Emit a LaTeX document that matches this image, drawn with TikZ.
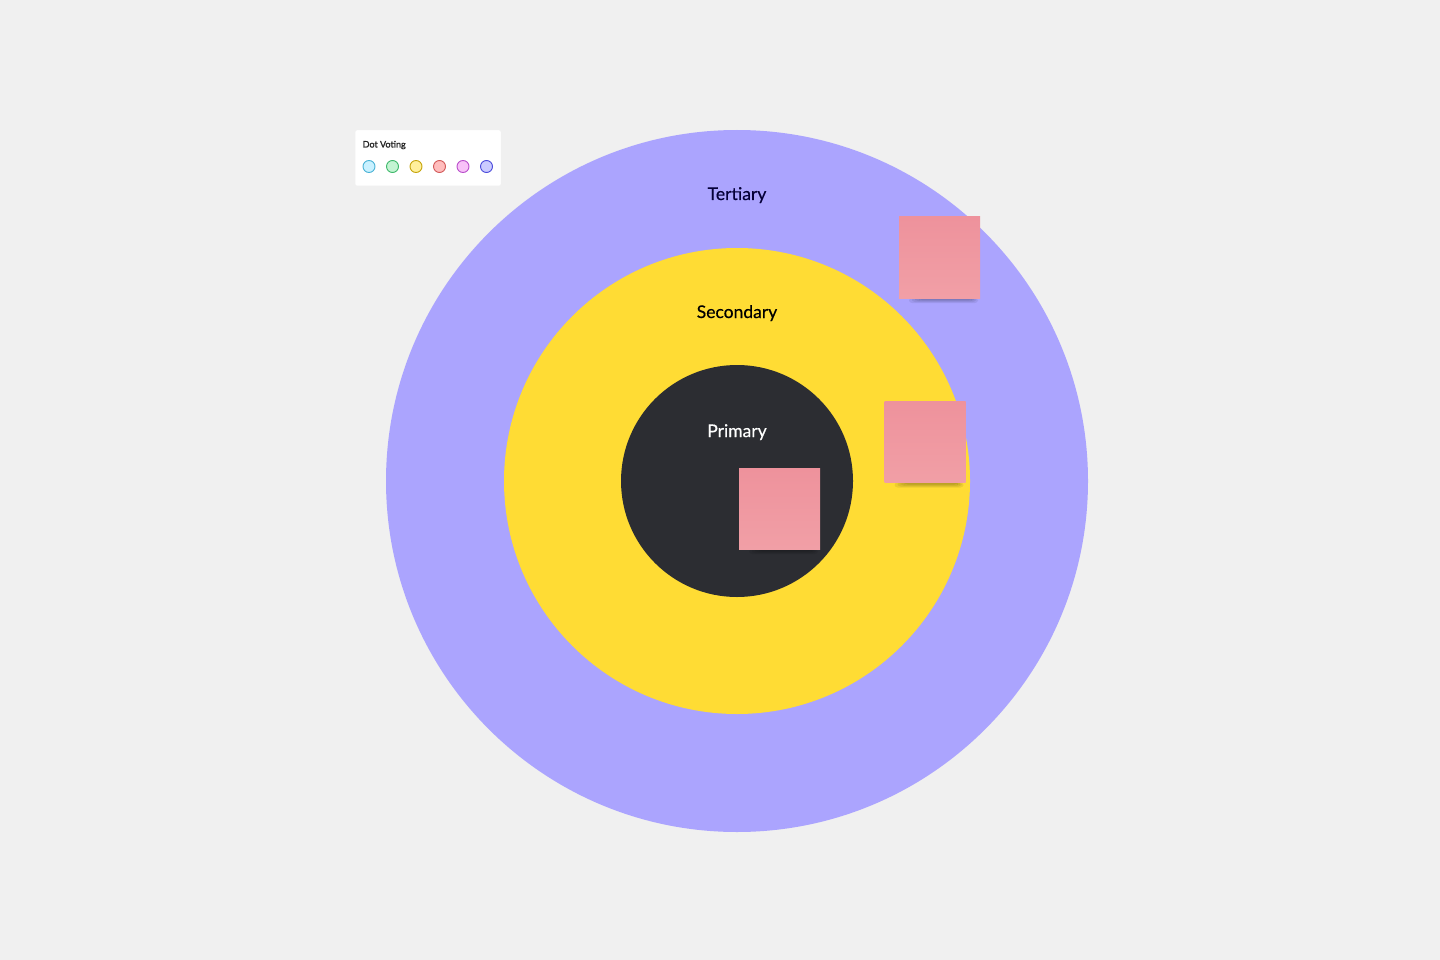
\documentclass[tikz,border=0pt]{standalone}
\usepackage{fontspec}
\setmainfont{Lato}
\definecolor{bg}{HTML}{F0F0F0}
\definecolor{tert}{HTML}{ABA4FE}
\definecolor{sec}{HTML}{FFDC34}
\definecolor{prim}{HTML}{2C2D32}
\definecolor{stickytop}{HTML}{EE929C}
\definecolor{stickybot}{HTML}{F19FA6}
\definecolor{navy}{HTML}{050038}
\definecolor{d1f}{HTML}{C9F1FF}\definecolor{d1d}{HTML}{4AB3D6}
\definecolor{d2f}{HTML}{C4F4D3}\definecolor{d2d}{HTML}{3DB86A}
\definecolor{d3f}{HTML}{FFF09C}\definecolor{d3d}{HTML}{C6A50E}
\definecolor{d4f}{HTML}{FFBDBD}\definecolor{d4d}{HTML}{D25858}
\definecolor{d5f}{HTML}{F8C2F8}\definecolor{d5d}{HTML}{B94FCB}
\definecolor{d6f}{HTML}{CBCBFF}\definecolor{d6d}{HTML}{4B4BDB}
\tikzset{
  ring/.style={circle,inner sep=0pt},
  sticky/.style={rectangle,inner sep=0pt,minimum width=81pt,minimum height=81pt,
    top color=stickytop,bottom color=stickybot},
  shade1/.style={fill=black,opacity=0.07,rounded corners=3pt},
  lbl/.style={font=\fontsize{17.5}{20}\selectfont\addfontfeatures{FakeBold=0.4}},
  vdot/.style={circle,inner sep=0pt,minimum size=12pt,line width=0.9pt},
}
% shadow under a sticky note whose centre is #1 (x,y) ; note is 81 wide
\newcommand{\stickyshadow}[2]{%
  \fill[shade1] (#1-30.5,#2+40.5) rectangle (#1+38.5,#2+45.5);
  \fill[shade1] (#1-27.5,#2+40.5) rectangle (#1+36.5,#2+44.5);
  \fill[shade1] (#1-24.5,#2+40.5) rectangle (#1+34.5,#2+43.5);
  \fill[shade1] (#1-20.5,#2+40.5) rectangle (#1+32.5,#2+42.5);
}
\begin{document}
\begin{tikzpicture}[x=1pt,y=-1pt]
\fill[bg] (0,0) rectangle (1440,960);
\useasboundingbox (0,0) rectangle (1440,960);
\node[ring,fill=tert,minimum size=702pt] (tertiary) at (737,481) {};
\node[ring,fill=sec,minimum size=466pt] (secondary) at (737,481) {};
\node[ring,fill=prim,minimum size=232pt] (primary) at (737,481) {};
\node[lbl,text=navy,anchor=base] (tlabel) at (737,200) {Tertiary};
\node[lbl,text=black,anchor=base] (slabel) at (737,318) {Secondary};
\node[lbl,text=white,anchor=base] (plabel) at (737,437) {Primary};
% sticky notes
\stickyshadow{939.5}{257.5}
\stickyshadow{925}{442}
\stickyshadow{779.5}{508.5}
\node[sticky] (s1) at (939.5,257.5) {};
\node[sticky] (s2) at (925,442) {};
\node[sticky] (s3) at (779.5,508.5) {};
% dot voting card
\node[rectangle,fill=white,draw=black!6,line width=0.5pt,inner sep=0pt,minimum width=146pt,minimum height=56pt,rounded corners=1.5pt] (card) at (428,158) {};
\node[anchor=base west,font=\fontsize{9}{10}\selectfont\addfontfeatures{FakeBold=1.5},text=black!85,inner sep=0pt] (cardtitle) at (362.5,147.5) {Dot Voting};
\node[vdot,fill=d1f,draw=d1d] (d1) at (369,166.5) {};
\node[vdot,fill=d2f,draw=d2d] (d2) at (392.5,166.5) {};
\node[vdot,fill=d3f,draw=d3d] (d3) at (416,166.5) {};
\node[vdot,fill=d4f,draw=d4d] (d4) at (439.5,166.5) {};
\node[vdot,fill=d5f,draw=d5d] (d5) at (463,166.5) {};
\node[vdot,fill=d6f,draw=d6d] (d6) at (486.5,166.5) {};
\end{tikzpicture}
\end{document}
